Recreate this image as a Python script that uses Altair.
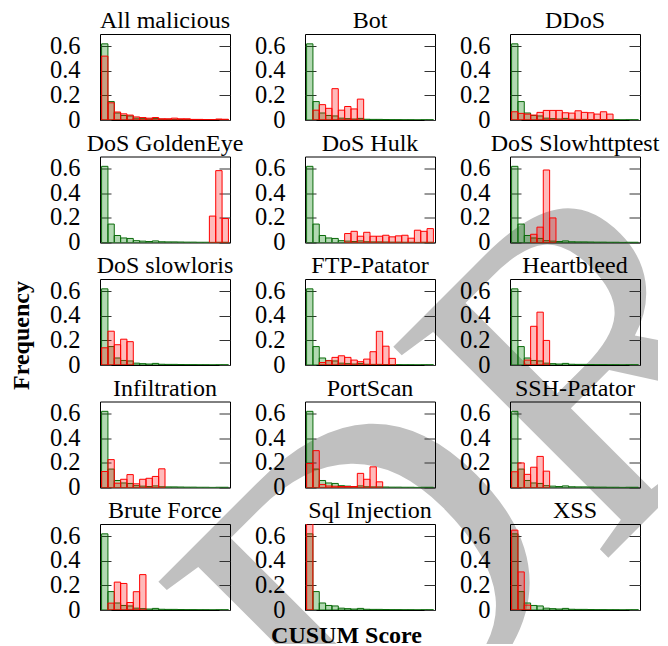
import altair as alt
import pandas as pd

FONT = "Liberation Serif"

PANELS = ["All malicious", "Bot", "DDoS",
          "DoS GoldenEye", "DoS Hulk", "DoS Slowhttptest",
          "DoS slowloris", "FTP-Patator", "Heartbleed",
          "Infiltration", "PortScan", "SSH-Patator",
          "Brute Force", "Sql Injection", "XSS"]

BINS = list(range(20))

BENIGN = [0.62, 0.15, 0.057, 0.037, 0.033, 0.015, 0.011, 0.008, 0.013, 0.006,
          0.005, 0.005, 0.004, 0.003, 0.003, 0.002, 0.002, 0.001, 0.002, 0.002]

ALL_MALICIOUS = [0.52, 0.14, 0.065, 0.05, 0.04, 0.025, 0.02, 0.015, 0.02, 0.01,
                 0.01, 0.015, 0.01, 0.01, 0.005, 0.005, 0.003, 0.003, 0.008, 0.006]
BOT = [0, 0.08, 0.125, 0.095, 0.255, 0.08, 0.11, 0.09, 0.17, 0,
       0, 0, 0, 0, 0, 0, 0, 0, 0, 0]
DDOS = [0.067, 0.054, 0.048, 0.04, 0.062, 0.078, 0.078, 0.078, 0.059, 0.056,
        0.075, 0.062, 0.059, 0.048, 0.067, 0.048, 0, 0, 0, 0]
DOS_GOLDENEYE = [0, 0, 0, 0, 0, 0, 0, 0, 0, 0,
                 0, 0, 0, 0, 0, 0, 0, 0.215, 0.585, 0.195]
DOS_HULK = [0, 0, 0, 0, 0, 0, 0.073, 0.091, 0.051, 0.083,
            0.051, 0.051, 0.059, 0.046, 0.054, 0.059, 0.035, 0.1, 0.091, 0.113]
DOS_SLOWHTTPTEST = [0, 0, 0, 0.067, 0.125, 0.59, 0.2, 0, 0, 0,
                    0, 0, 0, 0, 0, 0, 0, 0, 0, 0]
DOS_SLOWLORIS = [0.14, 0.275, 0.165, 0.21, 0.19, 0, 0, 0, 0, 0,
                 0, 0, 0, 0, 0, 0, 0, 0, 0, 0]
FTP_PATATOR = [0, 0, 0.02, 0.035, 0.062, 0.075, 0.062, 0.04, 0.027, 0.048,
               0.108, 0.274, 0.153, 0.054, 0, 0, 0, 0, 0, 0]
HEARTBLEED = [0, 0, 0.04, 0.315, 0.43, 0.2, 0, 0, 0, 0,
              0, 0, 0, 0, 0, 0, 0, 0, 0, 0]
INFILTRATION = [0.13, 0.227, 0.035, 0.067, 0.105, 0.03, 0.067, 0.075, 0.09, 0.152,
                0, 0, 0, 0, 0, 0, 0, 0, 0, 0]
PORTSCAN = [0.195, 0.3, 0.025, 0.012, 0.01, 0.008, 0.008, 0.008, 0.115, 0.067,
            0.168, 0.046, 0, 0, 0, 0, 0, 0, 0, 0]
SSH_PATATOR = [0.128, 0.2, 0.107, 0.165, 0.253, 0.133, 0, 0, 0, 0,
               0, 0, 0, 0, 0, 0, 0, 0, 0, 0]
BRUTE_FORCE = [0, 0.056, 0.227, 0.216, 0.061, 0.149, 0.288, 0, 0, 0,
               0, 0, 0, 0, 0, 0, 0, 0, 0, 0]
SQL_INJECTION = [1.0, 0, 0, 0, 0, 0, 0, 0, 0, 0,
                 0, 0, 0, 0, 0, 0, 0, 0, 0, 0]
XSS = [0.65, 0.31, 0.04, 0, 0, 0, 0, 0, 0, 0,
       0, 0, 0, 0, 0, 0, 0, 0, 0, 0]

MALICIOUS = [ALL_MALICIOUS, BOT, DDOS, DOS_GOLDENEYE, DOS_HULK, DOS_SLOWHTTPTEST,
             DOS_SLOWLORIS, FTP_PATATOR, HEARTBLEED, INFILTRATION, PORTSCAN,
             SSH_PATATOR, BRUTE_FORCE, SQL_INJECTION, XSS]

Y_TICKS = [0, 0.2, 0.4, 0.6]
W, H = 130, 86

WATERMARK = "DRAFT"


def frame(values):
    d = pd.DataFrame({"bin": BINS, "freq": values})
    d["bin_end"] = d["bin"] + 1
    return d[d["freq"] > 0]


def panel(idx):
    name = PANELS[idx]
    if idx == 6:
        ytitle = dict(title="Frequency", titleFont=FONT, titleFontSize=24,
                      titleFontWeight="bold", titleColor="black", titleX=-72,
                      titleY=56, titleAngle=270, titleAlign="center",
                      titleBaseline="alphabetic")
    else:
        ytitle = dict(title=None)
    yaxis = alt.Axis(values=Y_TICKS, tickCount=10, format="~g", labelFont=FONT,
                     labelFontSize=24.5, labelColor="black", labelPadding=20,
                     labelOverlap=False, labelBound=False, labelFlush=False,
                     ticks=False, domain=False,
                     grid=True, gridDash=[11, 108, 11, 100], gridColor="#333",
                     gridWidth=1, **ytitle)
    if idx == 13:
        xaxis = alt.Axis(labels=False, ticks=False, domain=False, grid=False,
                         title="CUSUM Score", titleFont=FONT, titleFontSize=24,
                         titleFontWeight="bold", titleColor="black", titleX=41,
                         titleY=32, titleAlign="center", titleBaseline="alphabetic")
    else:
        xaxis = None
    xs = alt.Scale(domain=[-0.25, 20.25], nice=False, zero=False)
    ys = alt.Scale(domain=[0, 0.7], nice=False)

    green = alt.Chart(frame(BENIGN)).mark_rect(
        fill="#008000", fillOpacity=0.3, stroke="#0b6b0b", strokeWidth=1, clip=True
    ).encode(
        x=alt.X("bin:Q", scale=xs, axis=xaxis),
        x2="bin_end:Q",
        y=alt.Y("freq:Q", scale=ys, axis=yaxis),
        y2=alt.datum(0),
    )
    red = alt.Chart(frame(MALICIOUS[idx])).mark_rect(
        fill="#ff0000", fillOpacity=0.27, stroke="#ff0000", strokeWidth=1, clip=True
    ).encode(
        x=alt.X("bin:Q", scale=xs),
        x2="bin_end:Q",
        y=alt.Y("freq:Q", scale=ys),
        y2=alt.datum(0),
    )
    return alt.layer(green, red).properties(
        width=W, height=H,
        title=alt.TitleParams(name, font=FONT, fontSize=24, fontWeight="normal",
                              color="black", offset=0),
    )


chart = alt.concat(
    *[panel(i) for i in range(len(PANELS))],
    columns=3,
    spacing={"row": 36.5, "column": 75},
    bounds="flush",
).properties(
    padding=0, background="white"
).configure_view(
    stroke="black", strokeWidth=1
)

# Light-gray "DRAFT" watermark drawn behind the panels. It lives in a clipped group
# (starting at the first panel's top edge) so that it neither enlarges the chart
# bounds nor moves the first panel's title.
GX, GY = -88, 0
watermark_group = {
    "type": "group",
    "name": "watermark",
    "interactive": False,
    "encode": {"enter": {
        "x": {"value": GX}, "y": {"value": GY},
        "width": {"value": 646}, "height": {"value": 610},
        "clip": {"value": True},
    }},
    "marks": [{
        "type": "text",
        "interactive": False,
        "encode": {"enter": {
            "text": {"value": WATERMARK},
            "x": {"value": 350},
            "y": {"value": 770},
            "angle": {"value": -45},
            "font": {"value": FONT},
            "fontSize": {"value": 460},
            "fill": {"value": "#c0c0c0"},
            "align": {"value": "left"},
            "baseline": {"value": "alphabetic"},
        }},
    }],
}

chart.save("out.html", embed_options={
    "renderer": "svg", "actions": False,
    "patch": [{"op": "add", "path": "/marks/0/marks/0", "value": watermark_group}],
})
